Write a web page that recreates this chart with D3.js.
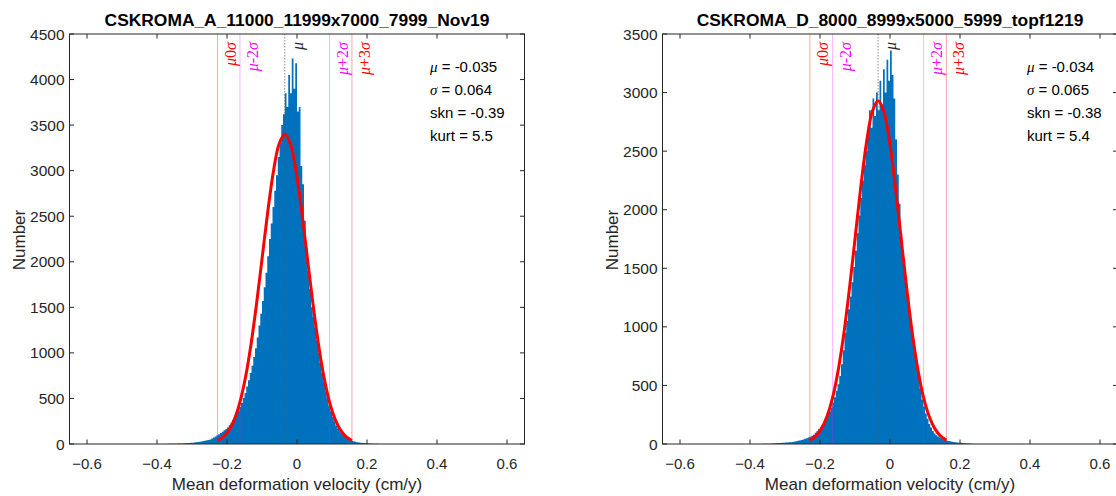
<!DOCTYPE html>
<html><head><meta charset="utf-8">
<script src="https://cdn.jsdelivr.net/npm/d3@7"></script>
<style>
html,body{margin:0;padding:0;background:#fff;}
svg{display:block;}
text{font-family:"Liberation Sans",Arial,Helvetica,sans-serif;}
</style></head>
<body>
<script>
// ---------------- DATA ----------------
const titles = ["CSKROMA_A_11000_11999x7000_7999_Nov19", "CSKROMA_D_8000_8999x5000_5999_topf1219"];
const xTicks = [-0.6, -0.4, -0.2, 0, 0.2, 0.4, 0.6];
const yTicksA = [0, 500, 1000, 1500, 2000, 2500, 3000, 3500, 4000, 4500];
const yTicksD = [0, 500, 1000, 1500, 2000, 2500, 3000, 3500];
const binStart = -0.38, binWidth = 0.005;
// histogram counts, bins of width 0.005 starting at -0.38
const countsA = [1,1,2,2,2,3,3,4,5,5,6,7,8,10,11,13,15,17,19,22,25,28,32,36,40,45,50,60,70,82,95,107,120,135,150,165,180,205,230,260,290,325,360,405,450,505,560,630,700,780,860,955,1050,1170,1300,1430,1570,1720,1880,2060,2250,2420,2600,2780,2950,3150,3300,3500,3620,3850,3700,4050,3850,4230,3900,4180,3650,3700,3050,2850,2450,2150,1900,1700,1500,1390,1280,1140,1000,890,780,680,580,500,420,360,300,250,200,170,140,115,95,80,65,55,45,37,30,25,20,17,15,12,10,9,8,6,5,4,3,2,2,1,1];
const countsD = [1,1,1,2,2,2,3,3,4,5,6,7,8,9,10,11,12,13,15,16,18,21,24,27,30,34,38,44,50,56,62,70,80,95,110,127,145,165,185,210,240,275,310,355,400,455,510,580,680,800,950,1050,1150,1260,1380,1510,1650,1800,1950,2100,2250,2380,2500,2680,2850,2700,2950,2800,3000,2850,3100,2900,3200,3000,3280,3100,3360,3150,2950,2600,2300,2050,1800,1650,1500,1370,1250,1120,1000,890,780,670,560,470,380,320,260,215,170,140,110,90,75,65,55,47,40,35,30,26,23,20,18,15,13,11,10,8,7,6,5,4,3,2,1];
// fitted normal curves (x, count)
const fitXA = [-0.227,-0.211,-0.195,-0.179,-0.163,-0.147,-0.131,-0.115,-0.099,-0.083,-0.067,-0.051,-0.035,-0.019,-0.003,0.013,0.029,0.045,0.061,0.077,0.093,0.109,0.125,0.141,0.157];
const fitYA = [38,77,149,271,460,735,1104,1557,2062,2566,3000,3295,3400,3295,3000,2566,2062,1557,1104,735,460,271,149,77,38];
const fitXD = [-0.229,-0.2128,-0.1965,-0.1803,-0.164,-0.1478,-0.1315,-0.1153,-0.099,-0.0828,-0.0665,-0.0503,-0.034,-0.0178,-0.0015,0.0148,0.031,0.0473,0.0635,0.0798,0.096,0.1123,0.1285,0.1448,0.161];
const fitYD = [33,67,129,233,396,634,951,1341,1777,2212,2586,2840,2930,2840,2586,2212,1777,1341,951,634,396,233,129,67,33];
// statistics
const muA = -0.035, sigmaA = 0.064, sknA = "-0.39", kurtA = "5.5";
const muD = -0.034, sigmaD = 0.065, sknD = "-0.38", kurtD = "5.4";
// vertical reference lines: position, label pieces
const refLinesA = [-0.227, -0.163, -0.035, 0.093, 0.157];
const refLinesD = [-0.229, -0.164, -0.034, 0.096, 0.161];
const refLabels = [["μ","0","σ"],["μ","-2","σ"],["μ","",""],["μ","+2","σ"],["μ","+3","σ"]];
const refKinds = ["s3","s2","mu","s2","s3"];

// ---------------- DRAW ----------------
const W = 1116, H = 496;
const svg = d3.select("body").append("svg").attr("width", W).attr("height", H);
const axisColor = "#262626";
const blue = "#0072BD";
const serif = "'Liberation Serif','Times New Roman',serif";

function panel(opt) {
  const x = d3.scaleLinear().domain([-0.65, 0.65]).range([opt.left, opt.left + 455]);
  const y = d3.scaleLinear().domain([0, opt.yMax]).range([444, 34]);
  const g = svg.append("g");
  const clipId = "clip" + opt.id;
  svg.append("clipPath").attr("id", clipId).append("rect")
    .attr("x", x.range()[0]).attr("y", 34).attr("width", 455).attr("height", 410);

  const plot = g.append("g").attr("clip-path", `url(#${clipId})`);

  // histogram as a step area
  const pts = opt.counts.map((c, i) => [binStart + i * binWidth, c]);
  pts.push([binStart + opt.counts.length * binWidth, 0]);
  plot.append("path")
    .attr("d", d3.area().x(d => x(d[0])).y0(y(0)).y1(d => y(d[1])).curve(d3.curveStepAfter)(pts))
    .attr("fill", blue);

  // vertical reference lines
  const lineStyle = {
    s3: {stroke: "#ff0000", op: 0.35, dash: null, w: 1},
    s2: {stroke: "#ff00ff", op: 0.3, dash: null, w: 1},
    mu: {stroke: "#555555", op: 0.8, dash: "1.5,1.5", w: 0.8}
  };
  const labelColor = {s3: "#ff0000", s2: "#ff00ff", mu: "#262626"};
  opt.refs.forEach((v, i) => {
    const st = lineStyle[refKinds[i]];
    plot.append("line").attr("x1", x(v)).attr("x2", x(v)).attr("y1", 34).attr("y2", 444)
      .attr("stroke", st.stroke).attr("stroke-opacity", st.op).attr("stroke-width", st.w)
      .attr("stroke-dasharray", st.dash);
    const t = g.append("text")
      .attr("transform", `translate(${x(v) + 18},${42}) rotate(-90)`)
      .attr("text-anchor", "end")
      .attr("fill", labelColor[refKinds[i]])
      .attr("font-size", 16);
    const parts = refLabels[i];
    t.append("tspan").attr("font-family", serif).attr("font-style", "italic").text(parts[0]);
    if (parts[1]) t.append("tspan").attr("font-family", serif).text(parts[1]);
    if (parts[2]) t.append("tspan").attr("font-family", serif).attr("font-style", "italic").text(parts[2]);
  });

  // fitted curve
  const fit = opt.fitX.map((v, i) => [v, opt.fitY[i]]);
  plot.append("path")
    .attr("d", d3.line().x(d => x(d[0])).y(d => y(d[1])).curve(d3.curveCatmullRom)(fit))
    .attr("fill", "none").attr("stroke", "#ff0000").attr("stroke-width", 3);

  // box
  const x0 = x.range()[0], x1 = x.range()[1];
  g.append("rect").attr("x", x0).attr("y", 34).attr("width", 455).attr("height", 410)
    .attr("fill", "none").attr("stroke", axisColor).attr("stroke-width", 1);

  // ticks (inward, both sides)
  xTicks.forEach(v => {
    g.append("line").attr("x1", x(v)).attr("x2", x(v)).attr("y1", 444).attr("y2", 439.5).attr("stroke", axisColor);
    g.append("line").attr("x1", x(v)).attr("x2", x(v)).attr("y1", 34).attr("y2", 38.5).attr("stroke", axisColor);
    g.append("text").attr("x", x(v)).attr("y", 469).attr("text-anchor", "middle")
      .attr("font-size", 15).attr("fill", axisColor).text(v === 0 ? "0" : d3.format("")(v));
  });
  opt.yTicks.forEach(v => {
    g.append("line").attr("x1", x0).attr("x2", x0 + 4.5).attr("y1", y(v)).attr("y2", y(v)).attr("stroke", axisColor);
    g.append("line").attr("x1", x1).attr("x2", x1 - 4.5).attr("y1", y(v)).attr("y2", y(v)).attr("stroke", axisColor);
    g.append("text").attr("x", x0 - 5).attr("y", y(v) + 5.5).attr("text-anchor", "end")
      .attr("font-size", 15.5).attr("fill", axisColor).text(v);
  });

  // axis labels
  g.append("text").attr("x", (x0 + x1) / 2).attr("y", 490).attr("text-anchor", "middle")
    .attr("font-size", 17).attr("fill", axisColor).text("Mean deformation velocity (cm/y)");
  g.append("text").attr("transform", `translate(${x0 - 45},${240}) rotate(-90)`).attr("text-anchor", "middle")
    .attr("font-size", 17).attr("fill", axisColor).text("Number");
  // title
  g.append("text").attr("x", (x0 + x1) / 2).attr("y", 26).attr("text-anchor", "middle")
    .attr("font-size", 17.4).attr("font-weight", "bold").attr("fill", "#000").text(opt.title);

  // statistics text
  const sx = opt.statsX;
  const lines = [
    [["μ", true], [" = " + opt.mu, false]],
    [["σ", true], [" = " + opt.sigma, false]],
    [["skn = " + opt.skn, false]],
    [["kurt = " + opt.kurt, false]]
  ];
  lines.forEach((ln, i) => {
    const t = g.append("text").attr("x", sx).attr("y", 72 + i * 23).attr("font-size", 15).attr("fill", "#000");
    ln.forEach(p => {
      const ts = t.append("tspan").text(p[0]);
      if (p[1]) ts.attr("font-family", serif).attr("font-style", "italic");
    });
  });
}

panel({id: "A", left: 69.5, yMax: 4500, yTicks: yTicksA, counts: countsA, fitX: fitXA, fitY: fitYA,
  refs: refLinesA, title: titles[0], mu: muA, sigma: sigmaA, skn: sknA, kurt: kurtA, statsX: 430});
panel({id: "D", left: 662.5, yMax: 3500, yTicks: yTicksD, counts: countsD, fitX: fitXD, fitY: fitYD,
  refs: refLinesD, title: titles[1], mu: muD, sigma: sigmaD, skn: sknD, kurt: kurtD, statsX: 1027});
</script>
</body></html>
